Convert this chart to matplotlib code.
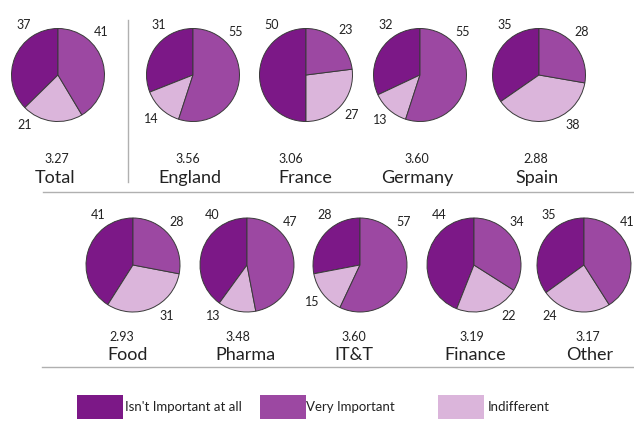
import numpy as np
import matplotlib.pyplot as plt
from matplotlib.patches import Rectangle
from matplotlib.lines import Line2D

plt.rcParams['font.family'] = ['Lato', 'DejaVu Sans']

# data
top_names = ['Total', 'England', 'France', 'Germany', 'Spain']
top_not_important = [37, 31, 50, 32, 35]
top_very_important = [41, 55, 23, 55, 28]
top_indifferent = [21, 14, 27, 13, 38]
top_scores = ['3.27', '3.56', '3.06', '3.60', '2.88']

bottom_names = ['Food', 'Pharma', 'IT&T', 'Finance', 'Other']
bottom_not_important = [41, 40, 28, 44, 35]
bottom_very_important = [28, 47, 57, 34, 41]
bottom_indifferent = [31, 13, 15, 22, 24]
bottom_scores = ['2.93', '3.48', '3.60', '3.19', '3.17']

legend_labels = ["Isn't Important at all", 'Very Important', 'Indifferent']

# colours
c_dark = '#7c1887'
c_mid = '#9c48a2'
c_light = '#dbb5db'
c_line = '#b0b0b0'
c_text = '#222222'

W, H = 634, 421
fig = plt.figure(figsize=(W / 100, H / 100), dpi=100)


def fx(x):
    return x / W


def fy(y):
    return 1 - y / H


def draw_pie(cx, cy, d, not_imp, very, indiff):
    pad = 1.7
    ax = fig.add_axes([fx(cx - d / 2 * pad), fy(cy + d / 2 * pad),
                       d * pad / W, d * pad / H])
    vals = [not_imp, indiff, very]
    ax.pie(vals, colors=[c_dark, c_light, c_mid], startangle=90, counterclock=True,
           wedgeprops=dict(edgecolor='#3a3a3a', linewidth=0.7))
    ax.set_xlim(-pad, pad)
    ax.set_ylim(-pad, pad)
    ax.axis('off')
    tot = float(not_imp + very + indiff)
    a_dark = 360 * not_imp / tot
    a_very = 360 * very / tot
    a_ind = 360 * indiff / tot
    mid_ind = 90 + a_dark + a_ind / 2
    # keep the indifferent label off the very bottom of the pie
    if 240 < mid_ind < 270:
        mid_ind = 236
    elif 270 <= mid_ind < 300:
        mid_ind = 304
    ang = {
        'dark': 90 + min(a_dark / 2, 35),
        'very': 90 - min(a_very / 2, 45),
        'ind': mid_ind,
    }
    r = 1.3
    for key, v in [('dark', not_imp), ('very', very), ('ind', indiff)]:
        t = np.deg2rad(ang[key])
        ax.text(r * np.cos(t), r * np.sin(t), str(v), ha='center', va='center',
                fontsize=9, color=c_text)


# top row
top_cx = [58, 193, 306, 420, 539]
top_score_x = [57, 188, 291, 417, 536]
top_name_x = [55, 190, 305, 417, 537]
for i in range(len(top_names)):
    draw_pie(top_cx[i], 75, 93, top_not_important[i],
             top_very_important[i], top_indifferent[i])
    fig.text(fx(top_score_x[i]), fy(159), top_scores[i], ha='center', va='center',
             fontsize=9, color=c_text)
    fig.text(fx(top_name_x[i]), fy(178), top_names[i], ha='center', va='center',
             fontsize=13, color=c_text)

# bottom row
bot_cx = [133, 247, 360, 474, 584]
bot_score_x = [122, 238, 354, 472, 588]
bot_name_x = [128, 245, 354, 475, 590]
for i in range(len(bottom_names)):
    draw_pie(bot_cx[i], 265, 94, bottom_not_important[i],
             bottom_very_important[i], bottom_indifferent[i])
    fig.text(fx(bot_score_x[i]), fy(337), bottom_scores[i], ha='center', va='center',
             fontsize=9, color=c_text)
    fig.text(fx(bot_name_x[i]), fy(355), bottom_names[i], ha='center', va='center',
             fontsize=13, color=c_text)

# separators
fig.add_artist(Line2D([fx(128), fx(128)], [fy(20), fy(182)], color=c_line, lw=1))
fig.add_artist(Line2D([fx(43), fx(634)], [fy(192), fy(192)], color=c_line, lw=1))
fig.add_artist(Line2D([fx(42), fx(634)], [fy(367), fy(367)], color=c_line, lw=1))

# legend
box_x = [77, 260, 438]
text_x = [125, 306, 488]
for bx, tx, col, lab in zip(box_x, text_x, [c_dark, c_mid, c_light], legend_labels):
    fig.add_artist(Rectangle((fx(bx), fy(419)), 46 / W, 24 / H, facecolor=col,
                             edgecolor='none', transform=fig.transFigure))
    fig.text(fx(tx), fy(407), lab, ha='left', va='center', fontsize=9.5, color=c_text)

fig.savefig('out.png', dpi=100, facecolor='white')
